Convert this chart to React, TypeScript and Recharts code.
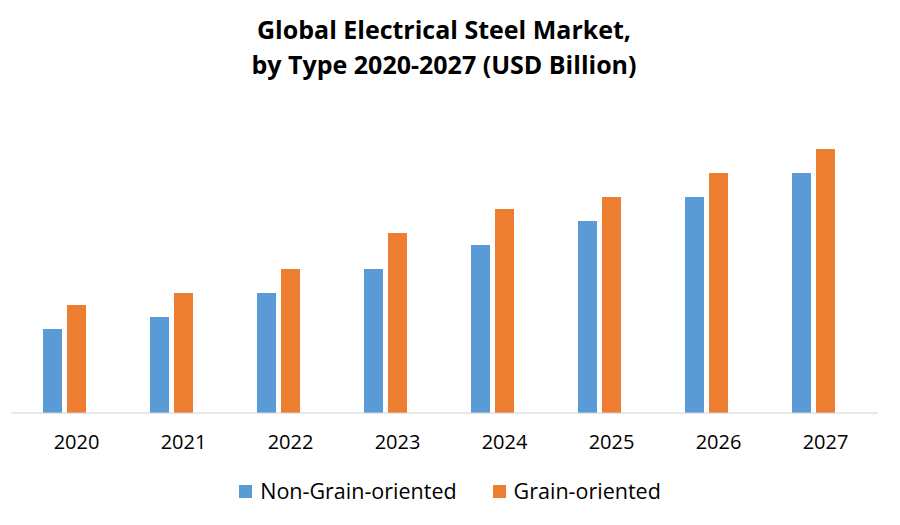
import { BarChart, Bar, XAxis, YAxis } from 'recharts'

const years = ['2020', '2021', '2022', '2023', '2024', '2025', '2026', '2027']
const nonGrain = [7, 8, 10, 12, 14, 16, 18, 20]
const grain = [9, 10, 12, 15, 17, 18, 20, 22]

const seriesNames = ['Non-Grain-oriented', 'Grain-oriented']
const seriesColors = ['#5B9BD5', '#ED7D31']

const data = years.map((year, i) => ({ year, nonGrain: nonGrain[i], grain: grain[i] }))

const FONT = '"Open Sans", "Noto Sans", sans-serif'

export default function App() {
  return (
    <div style={{ position: 'absolute', left: 0, top: 0, width: 900, height: 525, background: '#fff' }}>
      <div
        style={{
          position: 'absolute',
          top: 12,
          left: -6,
          width: 900,
          textAlign: 'center',
          fontFamily: FONT,
          fontWeight: 700,
          fontSize: 25,
          lineHeight: '35px',
          color: '#000',
        }}
      >
        Global Electrical Steel Market,
        <br />
        by Type 2020-2027 (USD Billion)
      </div>
      <BarChart
        width={900}
        height={525}
        data={data}
        margin={{ top: 125, right: 22, bottom: 82, left: 11 }}
        barSize={19}
        barGap={5}
      >
        <XAxis
          dataKey="year"
          height={30}
          padding={{ left: 0, right: 11 }}
          axisLine={{ stroke: '#d0d0d0' }}
          tickLine={false}
          tick={{ fill: '#000', fontSize: 20, fontFamily: FONT, dx: 12, dy: 14 }}
        />
        <YAxis hide domain={[0, 24]} />
        <Bar dataKey="nonGrain" name={seriesNames[0]} fill={seriesColors[0]} isAnimationActive={false} />
        <Bar dataKey="grain" name={seriesNames[1]} fill={seriesColors[1]} isAnimationActive={false} />
      </BarChart>
      <div
        style={{
          position: 'absolute',
          top: 476,
          left: 0,
          width: 900,
          display: 'flex',
          justifyContent: 'center',
          fontFamily: FONT,
          fontSize: 21.5,
          lineHeight: '30px',
          color: '#000',
        }}
      >
        {seriesNames.map((name, i) => (
          <div key={name} style={{ display: 'flex', alignItems: 'center', marginLeft: i ? 36 : 0 }}>
            <span style={{ width: 13, height: 13, background: seriesColors[i], display: 'inline-block', marginRight: 8 }} />
            <span>{name}</span>
          </div>
        ))}
      </div>
    </div>
  )
}
